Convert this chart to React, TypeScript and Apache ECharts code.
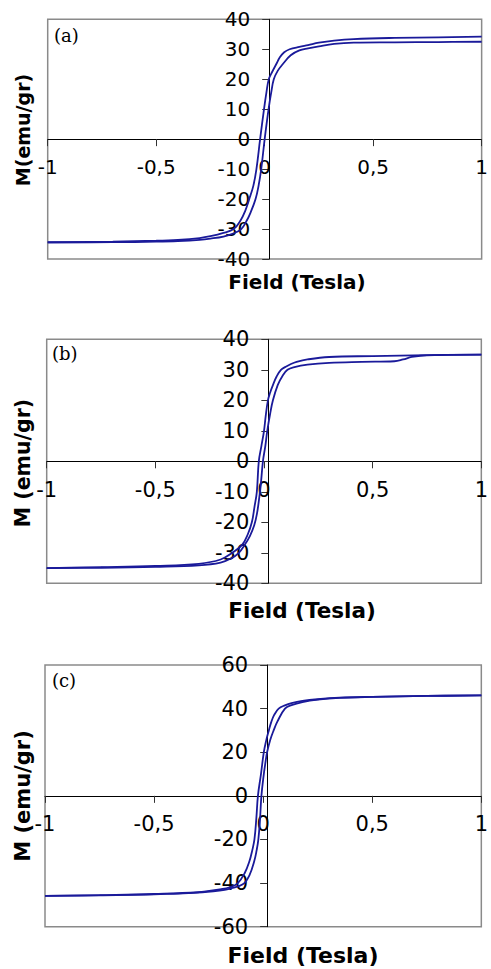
import React, { useEffect, useRef } from "react";
import * as echarts from "echarts";

// Panel (a): descending (upper) and ascending (lower) branches
const fieldA_down = [1, 0.8, 0.6, 0.41, 0.32, 0.25, 0.2, 0.16, 0.115, 0.09, 0.07, 0.053, 0.035, 0.019, 0.008, -0.003, -0.021, -0.038, -0.052, -0.071, -0.09, -0.11, -0.143, -0.19, -0.25, -0.3, -0.4, -0.5, -0.7, -1];
const magA_down = [34.2, 34.0, 33.8, 33.4, 32.9, 32.2, 31.4, 30.8, 30, 29.0, 27.3, 25, 22.5, 20, 15.5, 10, 0, -10, -15.5, -20, -24, -27, -30, -31.3, -32.4, -33.0, -33.6, -33.9, -34.2, -34.4];
const fieldA_up = [-1, -0.7, -0.5, -0.4, -0.3, -0.25, -0.19, -0.145, -0.108, -0.085, -0.065, -0.042, -0.028, -0.016, 0.0, 0.018, 0.03, 0.042, 0.06, 0.083, 0.12, 0.16, 0.2, 0.25, 0.32, 0.41, 0.6, 0.8, 1];
const magA_up = [-34.5, -34.4, -34.2, -34.0, -33.6, -33.2, -32.5, -31.5, -30, -27.5, -24.5, -20, -15.5, -10, 0, 10, 15.5, 20, 22.8, 25, 28, 29.6, 30.3, 31.0, 31.8, 32.2, 32.3, 32.4, 32.5];

// Panel (b)
const fieldB_down = [1, 0.75, 0.5, 0.3, 0.2, 0.15, 0.124, 0.1, 0.078, 0.058, 0.041, 0.028, 0.018, 0.008, 0.0, -0.012, -0.024, -0.033, -0.044, -0.056, -0.075, -0.1, -0.146, -0.2, -0.3, -0.5, -0.75, -1];
const magB_down = [35.0, 34.8, 34.5, 34.2, 33.4, 32.6, 31.9, 31.0, 30, 27.8, 25, 22.5, 20, 15, 10, 5, 0, -10, -15, -20, -24, -27.3, -30, -32.2, -33.6, -34.3, -34.7, -35.0];
const fieldB_up = [-1, -0.75, -0.5, -0.3, -0.2, -0.15, -0.116, -0.09, -0.065, -0.045, -0.032, -0.022, -0.014, -0.005, 0.006, 0.015, 0.028, 0.041, 0.063, 0.085, 0.108, 0.14, 0.2, 0.3, 0.45, 0.6, 0.64, 0.68, 0.72, 0.8, 1];
const magB_up = [-35.0, -34.9, -34.6, -34.1, -33.2, -31.8, -30, -27.5, -24.5, -21, -17, -12, -7, 0, 5, 10, 15.5, 20, 25, 28, 30, 30.9, 31.7, 32.3, 32.6, 32.8, 33.4, 34.2, 34.6, 34.8, 35.0];

// Panel (c)
const fieldC_down = [1, 0.75, 0.5, 0.35, 0.25, 0.18, 0.13, 0.1, 0.071, 0.05, 0.037, 0.026, 0.013, 0.003, -0.01, -0.024, -0.031, -0.04, -0.05, -0.063, -0.085, -0.116, -0.15, -0.2, -0.3, -0.5, -0.75, -1];
const magC_down = [46.1, 45.8, 45.4, 45.0, 44.3, 43.5, 42.5, 41.5, 40, 37, 33.8, 30, 25, 20, 10, 0, -10, -20, -25, -30, -35.5, -40, -41.8, -42.9, -44.2, -45.0, -45.5, -45.9];
const fieldC_up = [-1, -0.75, -0.5, -0.3, -0.2, -0.15, -0.115, -0.086, -0.063, -0.041, -0.03, -0.022, -0.014, -0.008, 0.003, 0.01, 0.018, 0.032, 0.048, 0.065, 0.1, 0.13, 0.18, 0.25, 0.35, 0.5, 0.75, 1];
const magC_up = [-45.9, -45.6, -45.2, -44.4, -43.4, -42.5, -41.5, -40, -36.5, -30, -25, -20, -10, 0, 10, 15, 20, 25.5, 30, 34, 40, 41.6, 43.0, 44.1, 44.9, 45.4, 45.8, 46.1];

const panelLetters = ["(a)", "(b)", "(c)"];
const yTitles = ["M(emu/gr)", "M (emu/gr)", "M (emu/gr)"];
const xTitle = "Field (Tesla)";
const yRanges = [[-40, 40, 10], [-40, 40, 10], [-60, 60, 20]];
const xRange = [-1, 1, 0.5];

const zip = (xs: number[], ys: number[]) => xs.map((x, i) => [x, ys[i]]);

export default function App() {
  const ref = useRef<HTMLDivElement>(null);
  useEffect(() => {
    if (!ref.current) return;
    const chart = echarts.init(ref.current, null, { renderer: "svg" });
    const grids = [
      { left: 47.7, top: 19.3, width: 443, height: 239.7 },
      { left: 46.7, top: 339.3, width: 443.3, height: 244 },
      { left: 45, top: 665, width: 444.3, height: 261.7 },
    ];
    const fs = [20, 21, 21];
    const lineColor = "#1a1a9a";
    const branches = [
      [zip(fieldA_down, magA_down), zip(fieldA_up, magA_up)],
      [zip(fieldB_down, magB_down), zip(fieldB_up, magB_up)],
      [zip(fieldC_down, magC_down), zip(fieldC_up, magC_up)],
    ];
    const series: any[] = [];
    branches.forEach((pair, i) => {
      pair.forEach((d) => {
        series.push({
          type: "line",
          xAxisIndex: i,
          yAxisIndex: i,
          data: d,
          showSymbol: false,
          smooth: 0.4,
          lineStyle: { color: lineColor, width: 1.8 },
          z: 3,
        });
      });
    });
    const xTitlePos = [[297, 282], [302, 610], [303, 955]];
    const yTitlePos = [[23, 130], [23, 463], [23, 796]];
    const letterPos = [[54, 35], [52, 353], [52, 680]];
    const xTitleFs = [20, 21.5, 22];
    const yTitleFs = [19, 20.5, 21];
    const graphic: any[] = [];
    for (let i = 0; i < 3; i++) {
      graphic.push({
        type: "text",
        x: letterPos[i][0],
        y: letterPos[i][1],
        style: { text: panelLetters[i], font: "18px 'DejaVu Serif', serif", fill: "#000", align: "left", verticalAlign: "middle" },
        z: 10,
      });
      graphic.push({
        type: "text",
        x: xTitlePos[i][0],
        y: xTitlePos[i][1],
        style: { text: xTitle, font: `bold ${xTitleFs[i]}px 'DejaVu Sans', sans-serif`, fill: "#000", align: "center", verticalAlign: "middle" },
        z: 10,
      });
      graphic.push({
        type: "text",
        x: yTitlePos[i][0],
        y: yTitlePos[i][1],
        rotation: Math.PI / 2,
        style: { text: yTitles[i], font: `bold ${yTitleFs[i]}px 'DejaVu Sans', sans-serif`, fill: "#000", align: "center", verticalAlign: "middle" },
        z: 10,
      });
    }
    chart.setOption({
      animation: false,
      backgroundColor: "#fff",
      grid: grids.map((g) => ({ ...g, show: true, borderColor: "#8a8a8a", borderWidth: 1.5, backgroundColor: "transparent" })),
      xAxis: grids.map((g, i) => ({
        gridIndex: i,
        type: "value",
        position: "bottom",
        offset: -g.height / 2,
        min: xRange[0],
        max: xRange[1],
        interval: xRange[2],
        axisLine: { show: true, onZero: false, lineStyle: { color: "#000", width: 1 } },
        axisTick: { show: true, inside: false, length: 7, lineStyle: { color: "#333" } },
        axisLabel: {
          show: true,
          margin: 18,
          color: "#000",
          fontSize: fs[i],
          fontFamily: "'DejaVu Sans', sans-serif",
          formatter: (v: number) => String(v).replace(".", ","),
        },
        splitLine: { show: false },
      })),
      yAxis: grids.map((g, i) => ({
        gridIndex: i,
        type: "value",
        position: "left",
        offset: -g.width / 2,
        min: yRanges[i][0],
        max: yRanges[i][1],
        interval: yRanges[i][2],
        axisLine: { show: true, onZero: false, lineStyle: { color: "#000", width: 1 } },
        axisTick: { show: true, inside: false, length: 7, lineStyle: { color: "#333" } },
        axisLabel: {
          show: true,
          margin: 19,
          color: "#000",
          fontSize: fs[i],
          fontFamily: "'DejaVu Sans', sans-serif",
        },
        splitLine: { show: false },
      })),
      series,
      graphic,
    });
    return () => chart.dispose();
  }, []);
  return <div ref={ref} style={{ position: "absolute", left: 0, top: 0, width: 491, height: 969, background: "#fff" }} />;
}
